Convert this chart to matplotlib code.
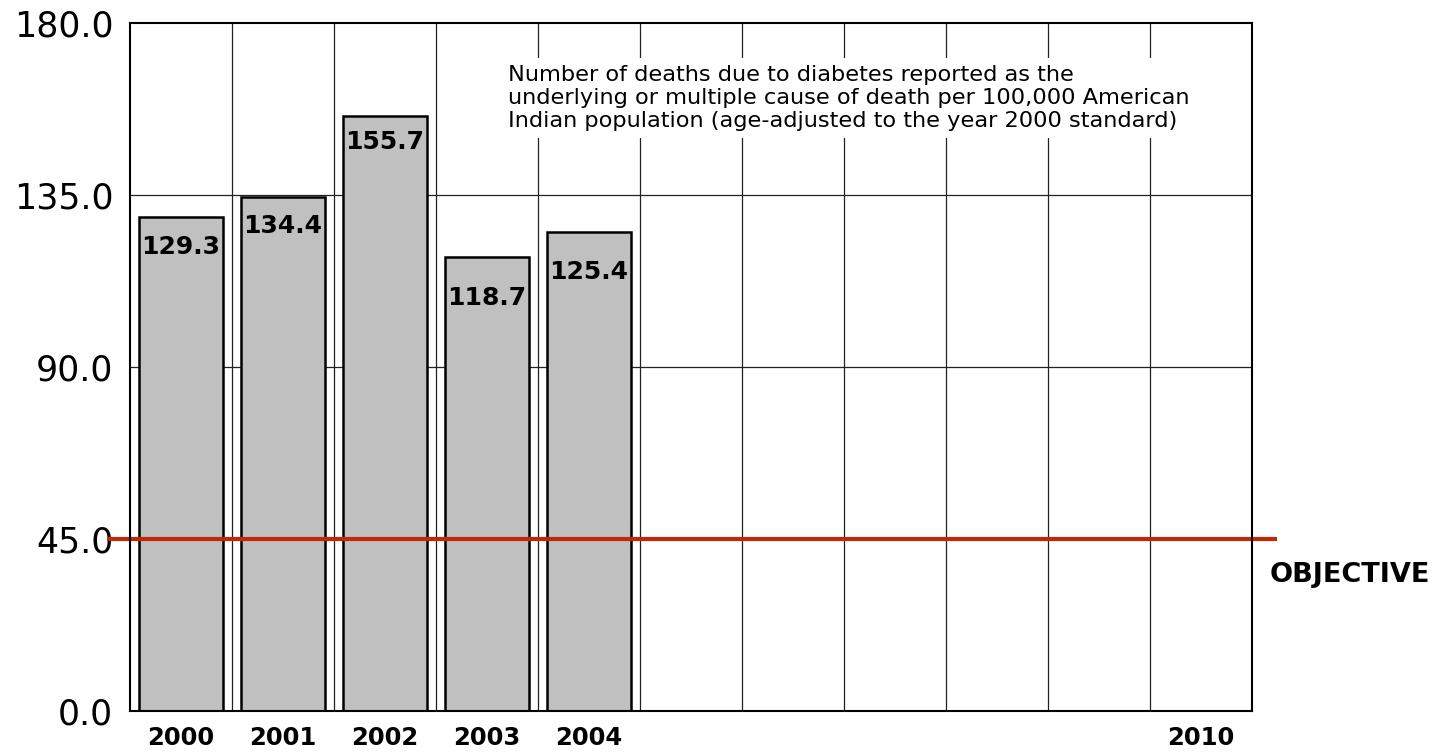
import numpy as np
import matplotlib.pyplot as plt

years = ['2000', '2001', '2002', '2003', '2004', '2005', '2006', '2007', '2008', '2009', '2010']
year_labels = ['2000', '2001', '2002', '2003', '2004', '', '', '', '', '', '2010']
bar_years = ['2000', '2001', '2002', '2003', '2004']
rates = [129.3, 134.4, 155.7, 118.7, 125.4]
objective = 45.0
yticks = [0.0, 45.0, 90.0, 135.0, 180.0]
note = ("Number of deaths due to diabetes reported as the\n"
        "underlying or multiple cause of death per 100,000 American\n"
        "Indian population (age-adjusted to the year 2000 standard)")

# how far below the bar top each value label sits (points)
label_drop = [21.5, 21, 19, 29, 29]

plt.rcParams['font.family'] = ['DejaVu Sans']

fig = plt.figure(figsize=(14.37, 7.56), dpi=100)
ax = fig.add_axes([130/1437, 45/756, 1122/1437, 688/756])

x = np.arange(len(years))
bx = np.array([years.index(y) for y in bar_years])

ax.set_xlim(-0.5, len(years) - 0.5)
ax.set_ylim(0, 180)

# grid: column borders and horizontal lines
for xv in x[:-1] + 0.5:
    ax.axvline(xv, color='#222222', lw=0.9, zorder=0)
for yv in yticks[1:-1]:
    ax.axhline(yv, color='#222222', lw=0.9, zorder=0)

ax.bar(bx, rates, width=0.83, color='#c0c0c0', edgecolor='black', linewidth=1.8, zorder=2)

for xi, v, d in zip(bx, rates, label_drop):
    ax.annotate(f'{v:.1f}', (xi, v), xytext=(0, -d), textcoords='offset points',
                ha='center', va='center', fontsize=18, fontweight='bold', zorder=3)

# objective line, runs past the axes
ax.plot([-0.725, len(years) - 0.255], [objective, objective], color='#c02808', lw=3,
        clip_on=False, zorder=4, solid_capstyle='butt')
ax.text(len(years) - 0.33, objective - 9.4, 'OBJECTIVE', ha='left', va='center',
        fontsize=19.5, fontweight='bold')

ax.set_yticks(yticks)
ax.set_yticklabels([f'{t:.1f}' for t in yticks], fontsize=25)
ax.set_xticks(x)
ax.set_xticklabels(year_labels, fontsize=17.5, fontweight='bold')
ax.tick_params(axis='y', length=0, pad=12)
ax.tick_params(axis='x', length=0, pad=11)
for s in ax.spines.values():
    s.set_linewidth(1.5)
    s.set_zorder(5)

fig.text(508/1437, 1 - 65/756, note, ha='left', va='top',
         fontsize=16.2, linespacing=1.18,
         bbox=dict(facecolor='white', edgecolor='none', pad=5), zorder=6)

fig.savefig('out.png', dpi=100)
